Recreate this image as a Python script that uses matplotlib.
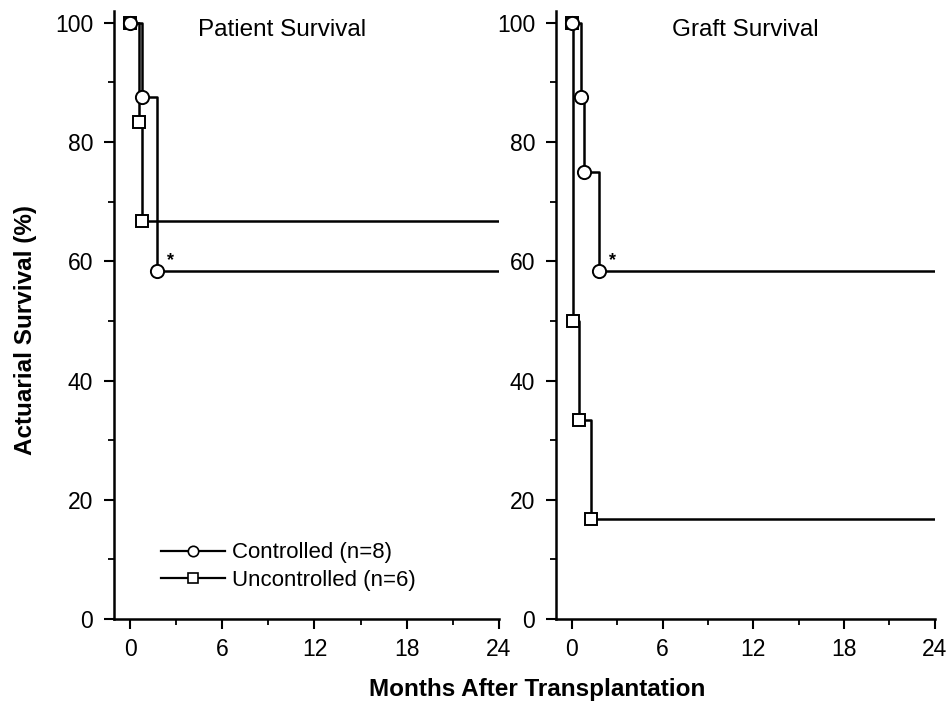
import matplotlib
matplotlib.use("Agg")
import matplotlib.pyplot as plt
from matplotlib.ticker import MultipleLocator
from matplotlib.lines import Line2D

plt.rcParams['font.family'] = ['Liberation Sans', 'DejaVu Sans']

# ---- data (months, % survival) ----
follow_up = 24
patient_ctrl_t = [0, 0.75, 1.75]
patient_ctrl_s = [100, 87.5, 58.3]
patient_unc_t = [0, 0.55, 0.8]
patient_unc_s = [100, 83.3, 66.7]

graft_ctrl_t = [0, 0.6, 0.8, 1.8]
graft_ctrl_s = [100, 87.5, 75.0, 58.3]
graft_unc_t = [0, 0.05, 0.45, 1.25]
graft_unc_s = [100, 50.0, 33.3, 16.7]

titles = ["Patient Survival", "Graft Survival"]
legend_labels = ["Controlled (n=8)", "Uncontrolled (n=6)"]
x_ticks = [0, 6, 12, 18, 24]
y_ticks = [0, 20, 40, 60, 80, 100]

fig = plt.figure(figsize=(9.52, 7.03), dpi=100)
ax1 = fig.add_axes([0.1197, 0.1195, 0.4043, 0.865])
ax2 = fig.add_axes([0.584, 0.1195, 0.398, 0.865])

lw = 1.8


def km(ax, t, s, marker, ms):
    tt = list(t) + [follow_up]
    ss = list(s) + [s[-1]]
    ax.plot(tt, ss, drawstyle='steps-post', color='black', lw=lw, zorder=2)
    ax.plot(t, s, linestyle='none', marker=marker, ms=ms, mfc='white',
            mec='black', mew=1.4, zorder=3)


for ax, (ct, cs, ut, us), title, tx in zip(
        [ax1, ax2],
        [(patient_ctrl_t, patient_ctrl_s, patient_unc_t, patient_unc_s),
         (graft_ctrl_t, graft_ctrl_s, graft_unc_t, graft_unc_s)],
        titles, [0.436, 0.50]):
    km(ax, ut, us, 's', 8.5)
    km(ax, ct, cs, 'o', 9.5)
    ax.set_xlim(-1.05, 24)
    ax.set_ylim(0, 102)
    ax.set_xticks(x_ticks)
    ax.set_yticks(y_ticks)
    ax.xaxis.set_minor_locator(MultipleLocator(3))
    ax.yaxis.set_minor_locator(MultipleLocator(10))
    ax.tick_params(which='major', direction='out', length=7, width=1.5,
                   labelsize=16.5)
    ax.tick_params(axis='y', which='major', pad=8)
    ax.tick_params(axis='x', which='major', pad=7)
    ax.tick_params(which='minor', direction='out', length=4, width=1.3)
    for sp in ['top', 'right']:
        ax.spines[sp].set_visible(False)
    for sp in ['left', 'bottom']:
        ax.spines[sp].set_linewidth(1.8)
    ax.text(tx, 0.969, title, transform=ax.transAxes, ha='center',
            va='center', fontsize=17.5)
    ax.text(ct[-1] + 0.9, cs[-1] + 1.8, '*', ha='center', va='center',
            fontsize=13, fontweight='bold')

handles = [
    Line2D([], [], color='black', lw=1.6, marker='o', ms=7.5, mfc='white',
           mec='black', mew=1.2),
    Line2D([], [], color='black', lw=1.6, marker='s', ms=7, mfc='white',
           mec='black', mew=1.2),
]
ax1.legend(handles, legend_labels, loc='lower left',
           bbox_to_anchor=(0.07, 0.013), frameon=False, fontsize=16,
           handlelength=2.9, handletextpad=0.3, labelspacing=0.3)

fig.text(0.027, 0.531, "Actuarial Survival (%)", rotation=90, ha='center',
         va='center', fontsize=17.5, fontweight='bold')
fig.text(0.564, 0.0185, "Months After Transplantation", ha='center',
         va='center', fontsize=17.5, fontweight='bold')

fig.savefig("out.png", dpi=100)
